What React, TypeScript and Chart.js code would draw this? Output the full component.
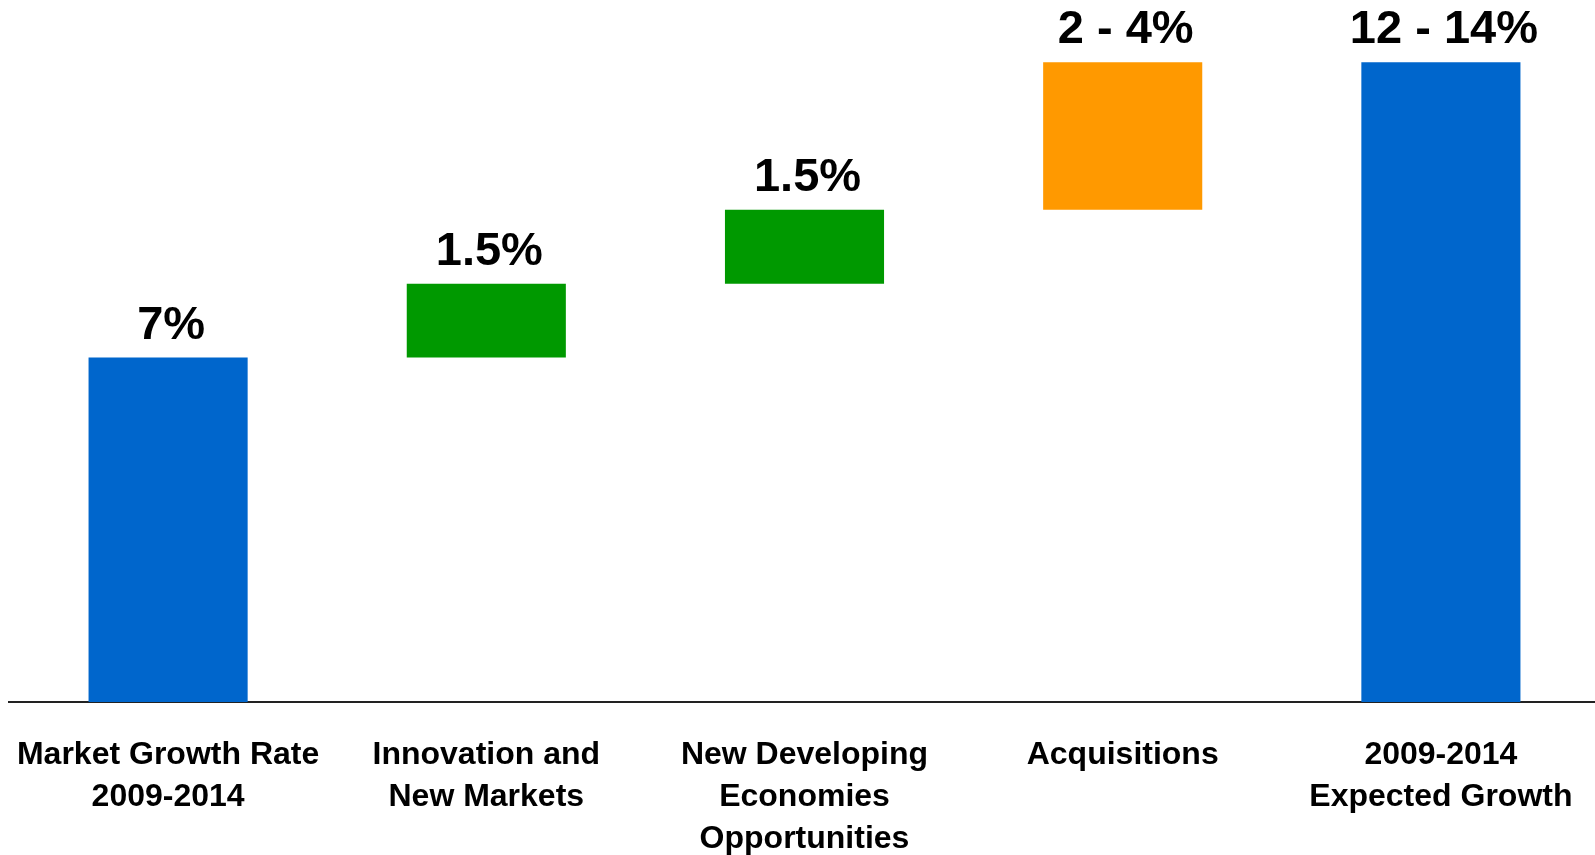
import React, { useEffect, useRef } from "react";
import { Chart, registerables } from "chart.js";

Chart.register(...registerables);

const categories: string[][] = [
  ["Market Growth Rate", "2009-2014"],
  ["Innovation and", "New Markets"],
  ["New Developing", "Economies", "Opportunities"],
  ["Acquisitions"],
  ["2009-2014", "Expected Growth"],
];
const barStarts: number[] = [0, 7, 8.5, 10, 0];
const barEnds: number[] = [7, 8.5, 10, 13, 13];
const valueLabels: string[] = ["7%", "1.5%", "1.5%", "2 - 4%", "12 - 14%"];
const barColors: string[] = ["#0066CC", "#009900", "#009900", "#FF9900", "#0066CC"];

const FONT = "'Liberation Sans', Arial, Helvetica, sans-serif";

const labelPlugin = {
  id: "valueLabels",
  afterDatasetsDraw(chart: any) {
    const ctx = chart.ctx;
    const meta = chart.getDatasetMeta(0);
    ctx.save();
    ctx.fillStyle = "#000000";
    ctx.font = `bold 47px ${FONT}`;
    ctx.textAlign = "center";
    ctx.textBaseline = "alphabetic";
    meta.data.forEach((bar: any, i: number) => {
      const top = Math.min(bar.y, bar.base);
      ctx.fillText(valueLabels[i], bar.x + 3, top - 19);
    });
    ctx.restore();
  },
};

export default function App() {
  const canvasRef = useRef<HTMLCanvasElement | null>(null);

  useEffect(() => {
    if (!canvasRef.current) return;
    const chart = new Chart(canvasRef.current, {
      type: "bar",
      data: {
        labels: categories,
        datasets: [
          {
            data: barStarts.map((s, i) => [s, barEnds[i]]) as any,
            backgroundColor: barColors,
            borderWidth: 0,
            barPercentage: 0.5,
            categoryPercentage: 1,
          },
        ],
      },
      options: {
        animation: false,
        responsive: false,
        maintainAspectRatio: false,
        layout: { padding: { top: 13, left: 9, right: 0, bottom: 0 } },
        plugins: {
          legend: { display: false },
          tooltip: { enabled: false },
          title: { display: false },
        },
        scales: {
          x: {
            grid: { display: false },
            border: { display: true, color: "#222222", width: 2 },
            ticks: {
              color: "#000000",
              padding: 24,
              maxRotation: 0,
              autoSkip: false,
              font: { family: FONT, weight: "bold", size: 32, lineHeight: 1.31 },
            },
            afterFit: (scale: any) => {
              scale.height = 153;
              scale.paddingLeft = 0;
              scale.paddingRight = 0;
            },
          },
          y: {
            display: false,
            min: 0,
            max: 14,
          },
        },
      },
      plugins: [labelPlugin],
    });
    return () => chart.destroy();
  }, []);

  return (
    <div style={{ position: "fixed", left: 0, top: 0, width: 1595, height: 855, background: "#ffffff", overflow: "hidden" }}>
      <canvas ref={canvasRef} width={1600} height={855} style={{ display: "block", width: 1600, height: 855 }} />
    </div>
  );
}
